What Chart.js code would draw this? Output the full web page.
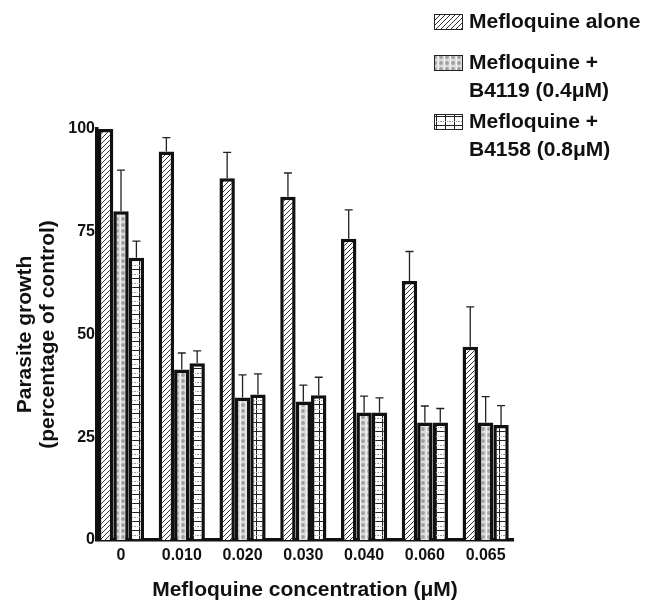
<!DOCTYPE html>
<html>
<head>
<meta charset="utf-8">
<script src="https://cdn.jsdelivr.net/npm/chart.js@4.4.1/dist/chart.umd.min.js"></script>
<style>
  body { margin: 0; background: #fff; }
  canvas { display: block; }
</style>
</head>
<body>
<canvas id="chart" width="647" height="605"></canvas>
<script>
// mefloquine concentrations (uM) on the x axis
const concentrations = ["0", "0.010", "0.020", "0.030", "0.040", "0.060", "0.065"];

// parasite growth, % of control, with the upper error bar (SD)
const mefloAlone = [100, 94.5, 88, 83.5, 73.3, 63, 47];
const mefloAloneSd = [0, 3.4, 6.3, 5.8, 7, 7.2, 9.7];
const withB4119 = [80, 41.5, 34.7, 33.7, 31, 28.6, 28.6];
const withB4119Sd = [10, 4, 5.5, 4, 4, 4, 6.3];
const withB4158 = [68.7, 43, 35.4, 35.2, 31, 28.6, 28];
const withB4158Sd = [4, 3, 5, 4.4, 3.6, 3.4, 4.7];

const seriesNames = [
    ["Mefloquine alone"],
    ["Mefloquine +", "B4119 (0.4\u03bcM)"],
    ["Mefloquine +", "B4158 (0.8\u03bcM)"]
];

const FONT = '"Liberation Sans", Arial, Helvetica, sans-serif';
const ctx = document.getElementById("chart").getContext("2d");

function makePattern(size, paint) {
    const c = document.createElement("canvas");
    c.width = size;
    c.height = size;
    paint(c.getContext("2d"), size);
    return ctx.createPattern(c, "repeat");
}

// diagonal hatch
const hatch = makePattern(5, (g, s) => {
    g.fillStyle = "#fff";
    g.fillRect(0, 0, s, s);
    g.strokeStyle = "#333";
    g.lineWidth = 1;
    g.beginPath();
    for (let k = -1; k <= 1; k++) {
        g.moveTo(k * s, s);
        g.lineTo(k * s + s, 0);
    }
    g.stroke();
});

// grey stipple
const stipple = makePattern(6, (g, s) => {
    g.fillStyle = "#dcdcdc";
    g.fillRect(0, 0, s, s);
    g.fillStyle = "#a0a0a0";
    g.beginPath();
    g.arc(3, 3, 1.9, 0, Math.PI * 2);
    g.fill();
    g.fillStyle = "#f2f2f2";
    g.fillRect(0, 0, 1, s);
});

// square grid
const grid = makePattern(9, (g, s) => {
    g.fillStyle = "#fff";
    g.fillRect(0, 0, s, s);
    g.fillStyle = "#222";
    g.fillRect(0, s - 1, s, 1);
    g.fillRect(4, 0, 1, s);
    g.fillStyle = "#999";
    for (let x = 0; x < s; x += 2) g.fillRect(x, 4, 1, 1);
});

const errorBars = {
    id: "errorBars",
    afterDatasetsDraw(chart) {
        const c = chart.ctx;
        const yScale = chart.scales.y;
        c.save();
        c.strokeStyle = "#222";
        c.lineWidth = 1.3;
        chart.data.datasets.forEach((ds, i) => {
            chart.getDatasetMeta(i).data.forEach((bar, j) => {
                const sd = ds.errors[j];
                if (!sd) return;
                const top = yScale.getPixelForValue(ds.data[j].y + sd);
                c.beginPath();
                c.moveTo(bar.x, bar.y);
                c.lineTo(bar.x, top);
                c.moveTo(bar.x - 4, top);
                c.lineTo(bar.x + 4, top);
                c.stroke();
            });
        });
        c.restore();
    }
};

const patternLegend = {
    id: "patternLegend",
    afterDraw(chart) {
        const c = chart.ctx;
        const rows = [22, 63, 122];
        c.save();
        c.font = "bold 21px " + FONT;
        c.textBaseline = "middle";
        chart.data.datasets.forEach((ds, i) => {
            const y = rows[i];
            c.fillStyle = ds.backgroundColor;
            c.fillRect(434, y - 8, 29, 16);
            c.strokeStyle = "#222";
            c.lineWidth = 1;
            c.strokeRect(434.5, y - 7.5, 28, 15);
            c.fillStyle = "#111";
            ds.legendLines.forEach((line, k) => c.fillText(line, 469, y + k * 28));
        });
        c.restore();
    }
};

function toPoints(values) {
    return values.map((v, i) => ({ x: i, y: v }));
}

const chart = new Chart(ctx, {
    type: "bar",
    data: {
        datasets: [
            { label: seriesNames[0].join(" "), legendLines: seriesNames[0], data: toPoints(mefloAlone), errors: mefloAloneSd, backgroundColor: hatch },
            { label: seriesNames[1].join(" "), legendLines: seriesNames[1], data: toPoints(withB4119), errors: withB4119Sd, backgroundColor: stipple },
            { label: seriesNames[2].join(" "), legendLines: seriesNames[2], data: toPoints(withB4158), errors: withB4158Sd, backgroundColor: grid }
        ]
    },
    options: {
        responsive: false,
        animation: false,
        layout: { padding: { top: 129, right: 134, bottom: 0, left: 0 } },
        datasets: {
            bar: {
                borderColor: "#111",
                borderWidth: 3.5,
                categoryPercentage: 0.76,
                barPercentage: 1
            }
        },
        plugins: {
            legend: { display: false },
            tooltip: { enabled: false }
        },
        scales: {
            x: {
                type: "linear",
                min: -0.395,
                max: 6.45,
                offset: false,
                grid: { display: false, drawTicks: false },
                border: { display: true, color: "#111", width: 3.5 },
                afterBuildTicks: (scale) => {
                    scale.ticks = concentrations.map((c, i) => ({ value: i }));
                },
                ticks: {
                    callback: (v) => concentrations[v],
                    font: { family: FONT, size: 16, weight: "bold" },
                    color: "#111",
                    padding: 6,
                    maxRotation: 0,
                    autoSkip: false
                },
                title: {
                    display: true,
                    text: "Mefloquine concentration (\u03bcM)",
                    font: { family: FONT, size: 21, weight: "bold" },
                    color: "#111",
                    padding: { top: 0, bottom: 2 }
                },
                afterFit: (scale) => { scale.height = 65; }
            },
            y: {
                min: 0,
                max: 100,
                grid: { display: false, drawTicks: false },
                border: { display: true, color: "#111", width: 3.5 },
                ticks: {
                    stepSize: 25,
                    font: { family: FONT, size: 16, weight: "bold" },
                    color: "#111",
                    padding: 2
                },
                title: {
                    display: true,
                    text: ["Parasite growth", "(percentage of control)"],
                    font: { family: FONT, size: 21, weight: "bold", lineHeight: 1.1 },
                    color: "#111",
                    padding: { top: 14, bottom: 0 }
                },
                afterFit: (scale) => { scale.width = 97; }
            }
        }
    },
    plugins: [errorBars, patternLegend]
});
</script>
</body>
</html>
